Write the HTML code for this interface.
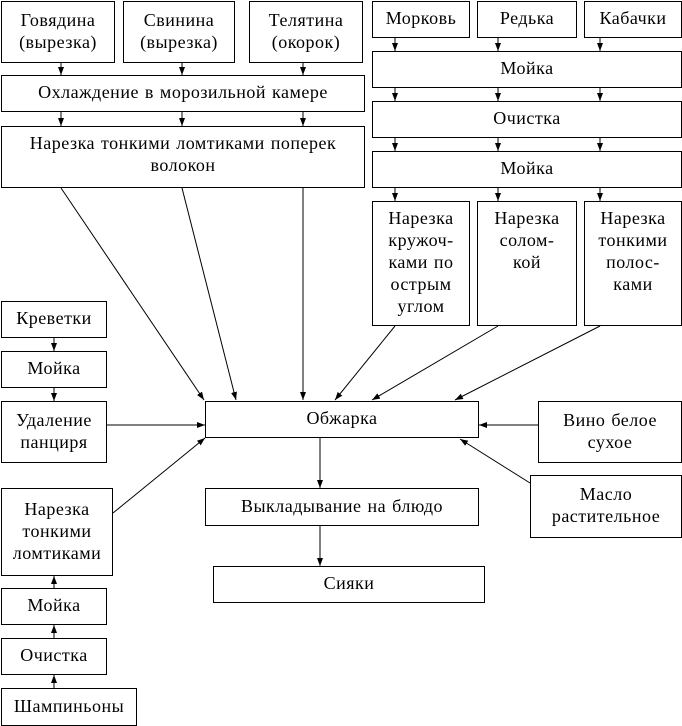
<!DOCTYPE html>
<html><head><meta charset="utf-8"><style>
body{margin:0;width:682px;height:726px;background:#fff;overflow:hidden}
.b{position:absolute;border:1px solid #000;box-sizing:border-box;display:flex;align-items:center;justify-content:center;text-align:center;font-family:"Liberation Serif",serif;font-size:18px;letter-spacing:0.5px;word-spacing:1px;line-height:22px;background:#fff;padding-bottom:3px}
.t{align-items:flex-start;padding-top:5px}
svg{position:absolute;left:0;top:0}
</style></head><body>
<svg width="682" height="726">
<defs><marker id="a" markerWidth="8" markerHeight="6" refX="8" refY="3" orient="auto" markerUnits="userSpaceOnUse"><path d="M0,0 L8,3 L0,6z" fill="#000"/></marker></defs>
<g stroke="#000" stroke-width="1" marker-end="url(#a)">
<line x1="61" y1="63" x2="61" y2="75"/><line x1="182" y1="63" x2="182" y2="75"/><line x1="303" y1="63" x2="303" y2="75"/>
<line x1="61" y1="112" x2="61" y2="126"/><line x1="182" y1="112" x2="182" y2="126"/><line x1="303" y1="112" x2="303" y2="126"/>
<line x1="61" y1="188" x2="204" y2="400"/><line x1="182" y1="188" x2="236" y2="400"/><line x1="303" y1="188" x2="303" y2="400"/>
<line x1="395" y1="38" x2="395" y2="51"/><line x1="498" y1="38" x2="498" y2="51"/><line x1="600" y1="38" x2="600" y2="51"/>
<line x1="395" y1="88" x2="395" y2="101"/><line x1="498" y1="88" x2="498" y2="101"/><line x1="600" y1="88" x2="600" y2="101"/>
<line x1="395" y1="138" x2="395" y2="151"/><line x1="498" y1="138" x2="498" y2="151"/><line x1="600" y1="138" x2="600" y2="151"/>
<line x1="395" y1="188" x2="395" y2="201"/><line x1="498" y1="188" x2="498" y2="201"/><line x1="600" y1="188" x2="600" y2="201"/>
<line x1="395" y1="326" x2="335" y2="400"/><line x1="498" y1="326" x2="372" y2="400"/><line x1="600" y1="326" x2="455" y2="400"/>
<line x1="54" y1="338" x2="54" y2="351"/><line x1="54" y1="388" x2="54" y2="401"/>
<line x1="107" y1="425" x2="205" y2="425"/>
<line x1="113" y1="513" x2="205" y2="438"/>
<line x1="538" y1="425" x2="479" y2="425"/>
<line x1="530" y1="483" x2="460" y2="439"/>
<line x1="320" y1="438" x2="320" y2="488"/><line x1="320" y1="526" x2="320" y2="566"/>
<line x1="54" y1="688" x2="54" y2="675"/><line x1="54" y1="638" x2="54" y2="625"/><line x1="54" y1="588" x2="54" y2="576"/>
</g></svg>
<div class="b" style="left:1px;top:1px;width:114px;height:62px">Говядина<br>(вырезка)</div>
<div class="b" style="left:123px;top:1px;width:112px;height:62px">Свинина<br>(вырезка)</div>
<div class="b" style="left:249px;top:1px;width:114px;height:62px">Телятина<br>(окорок)</div>
<div class="b" style="left:372px;top:1px;width:98px;height:37px">Морковь</div>
<div class="b" style="left:477px;top:1px;width:100px;height:37px">Редька</div>
<div class="b" style="left:584px;top:1px;width:98px;height:37px">Кабачки</div>
<div class="b" style="left:1px;top:75px;width:364px;height:37px">Охлаждение в морозильной камере</div>
<div class="b t" style="left:1px;top:126px;width:364px;height:62px">Нарезка тонкими ломтиками поперек<br>волокон</div>
<div class="b" style="left:372px;top:51px;width:310px;height:37px">Мойка</div>
<div class="b" style="left:372px;top:101px;width:310px;height:37px">Очистка</div>
<div class="b" style="left:372px;top:151px;width:310px;height:37px">Мойка</div>
<div class="b t" style="left:372px;top:201px;width:98px;height:125px">Нарезка<br>кружоч-<br>ками по<br>острым<br>углом</div>
<div class="b t" style="left:477px;top:201px;width:100px;height:125px">Нарезка<br>солом-<br>кой</div>
<div class="b t" style="left:584px;top:201px;width:98px;height:125px">Нарезка<br>тонкими<br>полос-<br>ками</div>
<div class="b" style="left:1px;top:301px;width:106px;height:37px">Креветки</div>
<div class="b" style="left:1px;top:351px;width:106px;height:37px">Мойка</div>
<div class="b" style="left:1px;top:401px;width:106px;height:62px">Удаление<br>панциря</div>
<div class="b" style="left:205px;top:401px;width:274px;height:37px">Обжарка</div>
<div class="b" style="left:538px;top:401px;width:144px;height:62px">Вино белое<br>сухое</div>
<div class="b" style="left:530px;top:475px;width:152px;height:63px">Масло<br>растительное</div>
<div class="b" style="left:205px;top:488px;width:274px;height:38px">Выкладывание на блюдо</div>
<div class="b" style="left:213px;top:566px;width:272px;height:37px">Сияки</div>
<div class="b" style="left:1px;top:488px;width:112px;height:88px">Нарезка<br>тонкими<br>ломтиками</div>
<div class="b" style="left:1px;top:588px;width:106px;height:37px">Мойка</div>
<div class="b" style="left:1px;top:638px;width:106px;height:37px">Очистка</div>
<div class="b" style="left:1px;top:688px;width:136px;height:38px">Шампиньоны</div>
</body></html>
